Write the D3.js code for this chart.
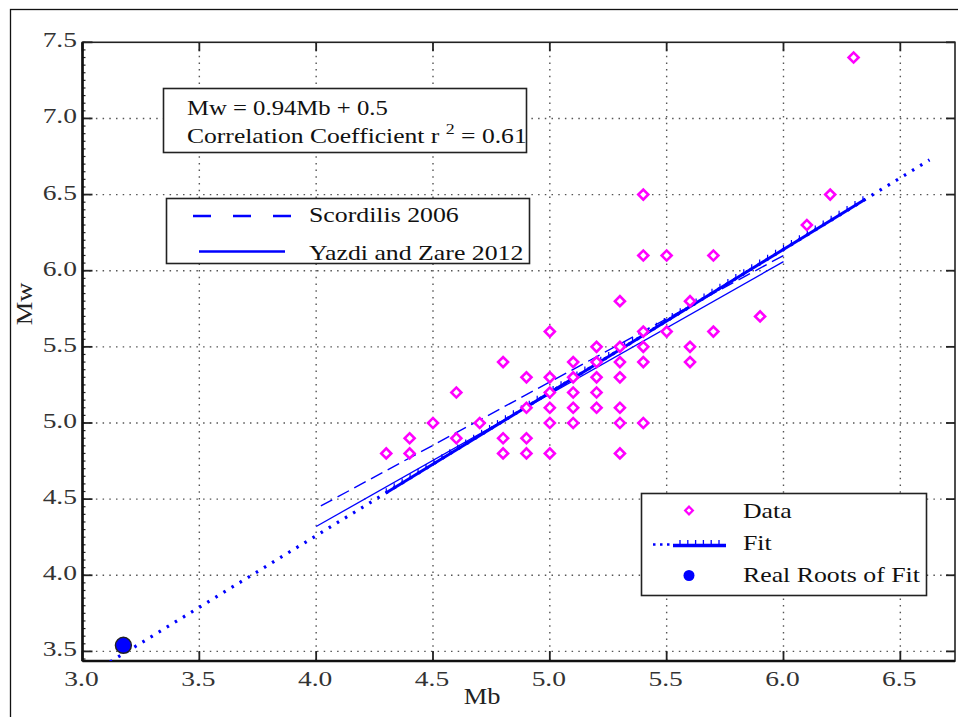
<!DOCTYPE html>
<html>
<head>
<meta charset="utf-8">
<script src="https://cdn.jsdelivr.net/npm/d3@7"></script>
<style>
  html, body { margin: 0; padding: 0; background: #fff; }
  svg { display: block; }
  text { font-family: "Liberation Serif", "DejaVu Serif", serif; }
</style>
</head>
<body>
<svg id="chart" width="958" height="717"></svg>
<script>
// ---------- data ----------
const dataMb = [4.3,4.4,4.4,4.5,4.6,4.6,4.7,4.8,4.8,4.8,4.9,4.9,4.9,4.9,
  5.0,5.0,5.0,5.0,5.0,5.0,5.1,5.1,5.1,5.1,5.1,5.2,5.2,5.2,5.2,5.2,
  5.3,5.3,5.3,5.3,5.3,5.3,5.3,5.4,5.4,5.4,5.4,5.4,5.4,5.5,5.5,
  5.6,5.6,5.6,5.7,5.7,5.9,6.1,6.2,6.3];
const dataMw = [4.8,4.9,4.8,5.0,5.2,4.9,5.0,5.4,4.9,4.8,5.3,5.1,4.9,4.8,
  5.6,5.3,5.2,5.1,5.0,4.8,5.4,5.3,5.2,5.1,5.0,5.5,5.4,5.3,5.2,5.1,
  5.8,5.5,5.4,5.3,5.1,5.0,4.8,6.5,6.1,5.6,5.5,5.4,5.0,6.1,5.6,
  5.8,5.5,5.4,6.1,5.6,5.7,6.3,6.5,7.4];

const fitSlope = 0.94, fitIntercept = 0.5;
const fitDottedRange = [3.118, 6.625];    // Mb extent of dotted fit line
const fitThickRange = [4.3, 6.35];        // Mb extent of thick fit line
const scordilisLine = [[4.02, 4.455], [6.0, 6.10]];
const yazdiLine = [[4.0, 4.32], [6.0, 6.06]];
const realRoot = [3.175, 3.54];

const xTicks = [3.0, 3.5, 4.0, 4.5, 5.0, 5.5, 6.0, 6.5];
const yTicks = [3.5, 4.0, 4.5, 5.0, 5.5, 6.0, 6.5, 7.0, 7.5];
const xLabel = "Mb", yLabel = "Mw";
const eqLine1 = "Mw = 0.94Mb + 0.5";
const eqLine2a = "Correlation Coefficient r", eqSup = "2", eqLine2b = " = 0.61";
const legend1 = ["Scordilis 2006", "Yazdi and Zare 2012"];
const legend2 = ["Data", "Fit", "Real Roots of Fit"];

// ---------- layout ----------
const svg = d3.select("#chart");
const L = 82.5, R = 955, T = 42.3, B = 661;
const x = d3.scaleLinear().domain([3.0, 6.734]).range([L, R]);
const y = d3.scaleLinear().domain([3.437, 7.5]).range([B, T]);
const BLUE = "#0000ff", MAG = "#ff00ff", GRID = "#555";

// horizontally widen text about its anchor x (reference font is wider)
function stretch(sel, s) {
  sel.each(function () {
    const ax = +this.getAttribute("x");
    this.setAttribute("transform", `translate(${ax},0) scale(${s},1) translate(${-ax},0)`);
  });
}

// outer frame
svg.append("rect").attr("x", 10.5).attr("y", 9.5).attr("width", 1000).attr("height", 1000)
  .attr("fill", "none").attr("stroke", "#111").attr("stroke-width", 1.3);

svg.append("clipPath").attr("id", "plotclip").append("rect")
  .attr("x", L).attr("y", T).attr("width", R - L).attr("height", B - T);

// grid
const grid = svg.append("g");
grid.selectAll(".gx").data(xTicks.filter(v => v > 3.0)).join("line")
  .attr("x1", d => x(d)).attr("x2", d => x(d)).attr("y1", T).attr("y2", B)
  .attr("stroke", GRID).attr("stroke-width", 1.4).attr("stroke-dasharray", "1.5,5.2");
grid.selectAll(".gy").data(yTicks.filter(v => v < 7.5)).join("line")
  .attr("y1", d => y(d)).attr("y2", d => y(d)).attr("x1", L).attr("x2", R)
  .attr("stroke", GRID).attr("stroke-width", 1.4).attr("stroke-dasharray", "1.5,5.2");

// axes ticks (inward)
const axG = svg.append("g");
const yMinor = d3.range(3.45, 7.5001, 0.05);
axG.selectAll(".ym").data(yMinor).join("line")
  .attr("x1", L).attr("x2", L + 3).attr("y1", d => y(d)).attr("y2", d => y(d))
  .attr("stroke", "#222").attr("stroke-width", 1.2);
axG.selectAll(".yM").data(yTicks).join("line")
  .attr("x1", L).attr("x2", L + 10).attr("y1", d => y(d)).attr("y2", d => y(d))
  .attr("stroke", "#222").attr("stroke-width", 1.8);
axG.selectAll(".yR").data(yTicks).join("line")
  .attr("x1", R).attr("x2", R - 9).attr("y1", d => y(d)).attr("y2", d => y(d))
  .attr("stroke", "#222").attr("stroke-width", 1.8);
axG.selectAll(".xM").data(xTicks).join("line")
  .attr("x1", d => x(d)).attr("x2", d => x(d)).attr("y1", B).attr("y2", B - 10)
  .attr("stroke", "#222").attr("stroke-width", 1.8);
axG.selectAll(".xT").data(xTicks).join("line")
  .attr("x1", d => x(d)).attr("x2", d => x(d)).attr("y1", T).attr("y2", T + 9)
  .attr("stroke", "#222").attr("stroke-width", 1.8);

// plot border
svg.append("rect").attr("x", L).attr("y", T).attr("width", R - L).attr("height", B - T)
  .attr("fill", "none").attr("stroke", "#222").attr("stroke-width", 1.6);
svg.append("line").attr("x1", L).attr("x2", L).attr("y1", T).attr("y2", B)
  .attr("stroke", "#111").attr("stroke-width", 2.6);
svg.append("line").attr("x1", L).attr("x2", R).attr("y1", B).attr("y2", B)
  .attr("stroke", "#111").attr("stroke-width", 2.6);

// tick labels
svg.selectAll(".xl").data(xTicks).join("text").attr("class", "xl")
  .attr("x", d => x(d) - 1).attr("y", 686).attr("text-anchor", "middle")
  .attr("font-size", 22).attr("fill", "#333").text(d => d.toFixed(1))
  .call(stretch, 1.25);
svg.selectAll(".yl").data(yTicks).join("text").attr("class", "yl")
  .attr("x", 77).attr("y", d => y(d) + 5).attr("text-anchor", "end")
  .attr("font-size", 22).attr("fill", "#333").text(d => d.toFixed(1))
  .call(stretch, 1.25);

// axis labels
svg.append("text").attr("x", 482).attr("y", 704).attr("text-anchor", "middle")
  .attr("font-size", 23).attr("fill", "#222").text(xLabel).call(stretch, 1.15);
svg.append("text").attr("transform", "translate(32,304) rotate(-90) scale(1.15,1)")
  .attr("text-anchor", "middle").attr("font-size", 23).attr("fill", "#222").text(yLabel);

// ---------- marks ----------
const plot = svg.append("g").attr("clip-path", "url(#plotclip)");
const line = d3.line().x(d => x(d[0])).y(d => y(d[1]));
const fitF = m => fitSlope * m + fitIntercept;

plot.append("path").datum(scordilisLine).attr("d", line)
  .attr("fill", "none").attr("stroke", BLUE).attr("stroke-width", 1.4)
  .attr("stroke-dasharray", "13,6");
plot.append("path").datum(yazdiLine).attr("d", line)
  .attr("fill", "none").attr("stroke", BLUE).attr("stroke-width", 1.3);
plot.append("path").datum(fitDottedRange.map(m => [m, fitF(m)])).attr("d", line)
  .attr("fill", "none").attr("stroke", BLUE).attr("stroke-width", 3.2)
  .attr("stroke-dasharray", "2.5,7");
plot.append("path").datum(fitThickRange.map(m => [m, fitF(m)])).attr("d", line)
  .attr("fill", "none").attr("stroke", BLUE).attr("stroke-width", 3);
const tickMs = d3.range(fitThickRange[0], fitThickRange[1], 0.034);
plot.selectAll(".ft").data(tickMs).join("line")
  .attr("x1", d => x(d)).attr("x2", d => x(d))
  .attr("y1", d => y(fitF(d))).attr("y2", d => y(fitF(d)) - 4.5)
  .attr("stroke", BLUE).attr("stroke-width", 1.2);

// data diamonds
const diamond = d3.symbol().type(d3.symbolSquare).size(50);
plot.selectAll(".pt").data(dataMb.map((m, i) => [m, dataMw[i]])).join("path")
  .attr("d", diamond)
  .attr("transform", d => `translate(${x(d[0])},${y(d[1])}) rotate(45)`)
  .attr("fill", "#fff").attr("stroke", MAG).attr("stroke-width", 2.6);

// real root
svg.append("circle").attr("cx", x(realRoot[0])).attr("cy", y(realRoot[1])).attr("r", 8)
  .attr("fill", BLUE).attr("stroke", "#222").attr("stroke-width", 1.4);

// ---------- equation box ----------
svg.append("rect").attr("x", 163.5).attr("y", 88.5).attr("width", 363).attr("height", 64)
  .attr("fill", "#fff").attr("stroke", "#222").attr("stroke-width", 1.6);
svg.append("text").attr("x", 187).attr("y", 115).attr("font-size", 21.5).attr("fill", "#111")
  .text(eqLine1).call(stretch, 1.15);
const t2 = svg.append("text").attr("x", 187).attr("y", 143).attr("font-size", 21.5).attr("fill", "#111");
t2.append("tspan").text(eqLine2a + " ");
t2.append("tspan").attr("dy", -9).attr("font-size", 15).text(eqSup);
t2.append("tspan").attr("dy", 9).text(eqLine2b);
t2.call(stretch, 1.19);

// ---------- legend 1 ----------
svg.append("rect").attr("x", 166.5).attr("y", 198.5).attr("width", 363).attr("height", 65)
  .attr("fill", "#fff").attr("stroke", "#222").attr("stroke-width", 1.6);
svg.append("line").attr("x1", 193).attr("x2", 292).attr("y1", 216).attr("y2", 216)
  .attr("stroke", BLUE).attr("stroke-width", 2.4).attr("stroke-dasharray", "18,22");
svg.append("line").attr("x1", 199).attr("x2", 285).attr("y1", 251.5).attr("y2", 251.5)
  .attr("stroke", BLUE).attr("stroke-width", 2.4);
svg.selectAll(".lg1").data(legend1).join("text").attr("class", "lg1")
  .attr("x", 309).attr("y", (d, i) => 222 + i * 38).attr("font-size", 21.5).attr("fill", "#111").text(d => d)
  .call(stretch, 1.2);

// ---------- legend 2 ----------
svg.append("rect").attr("x", 641.5).attr("y", 493.5).attr("width", 285).attr("height", 102)
  .attr("fill", "#fff").attr("stroke", "#222").attr("stroke-width", 1.6);
svg.append("path").attr("d", d3.symbol().type(d3.symbolSquare).size(30))
  .attr("transform", "translate(689,510.5) rotate(45)")
  .attr("fill", "#fff").attr("stroke", MAG).attr("stroke-width", 2.2);
svg.append("line").attr("x1", 653).attr("x2", 673).attr("y1", 544.5).attr("y2", 544.5)
  .attr("stroke", BLUE).attr("stroke-width", 2.5).attr("stroke-dasharray", "2.5,4.5");
svg.append("line").attr("x1", 673).attr("x2", 726).attr("y1", 545.5).attr("y2", 545.5)
  .attr("stroke", BLUE).attr("stroke-width", 3.5);
svg.selectAll(".lft").data(d3.range(680, 726, 7.8)).join("line")
  .attr("x1", d => d).attr("x2", d => d).attr("y1", 545).attr("y2", 540)
  .attr("stroke", BLUE).attr("stroke-width", 1.3);
svg.append("circle").attr("cx", 689).attr("cy", 575.5).attr("r", 5.5).attr("fill", BLUE);
svg.selectAll(".lg2").data(legend2).join("text").attr("class", "lg2")
  .attr("x", 743).attr("y", (d, i) => 518 + i * 32).attr("font-size", 21.5).attr("fill", "#111").text(d => d)
  .call(stretch, 1.2);
</script>
</body>
</html>
